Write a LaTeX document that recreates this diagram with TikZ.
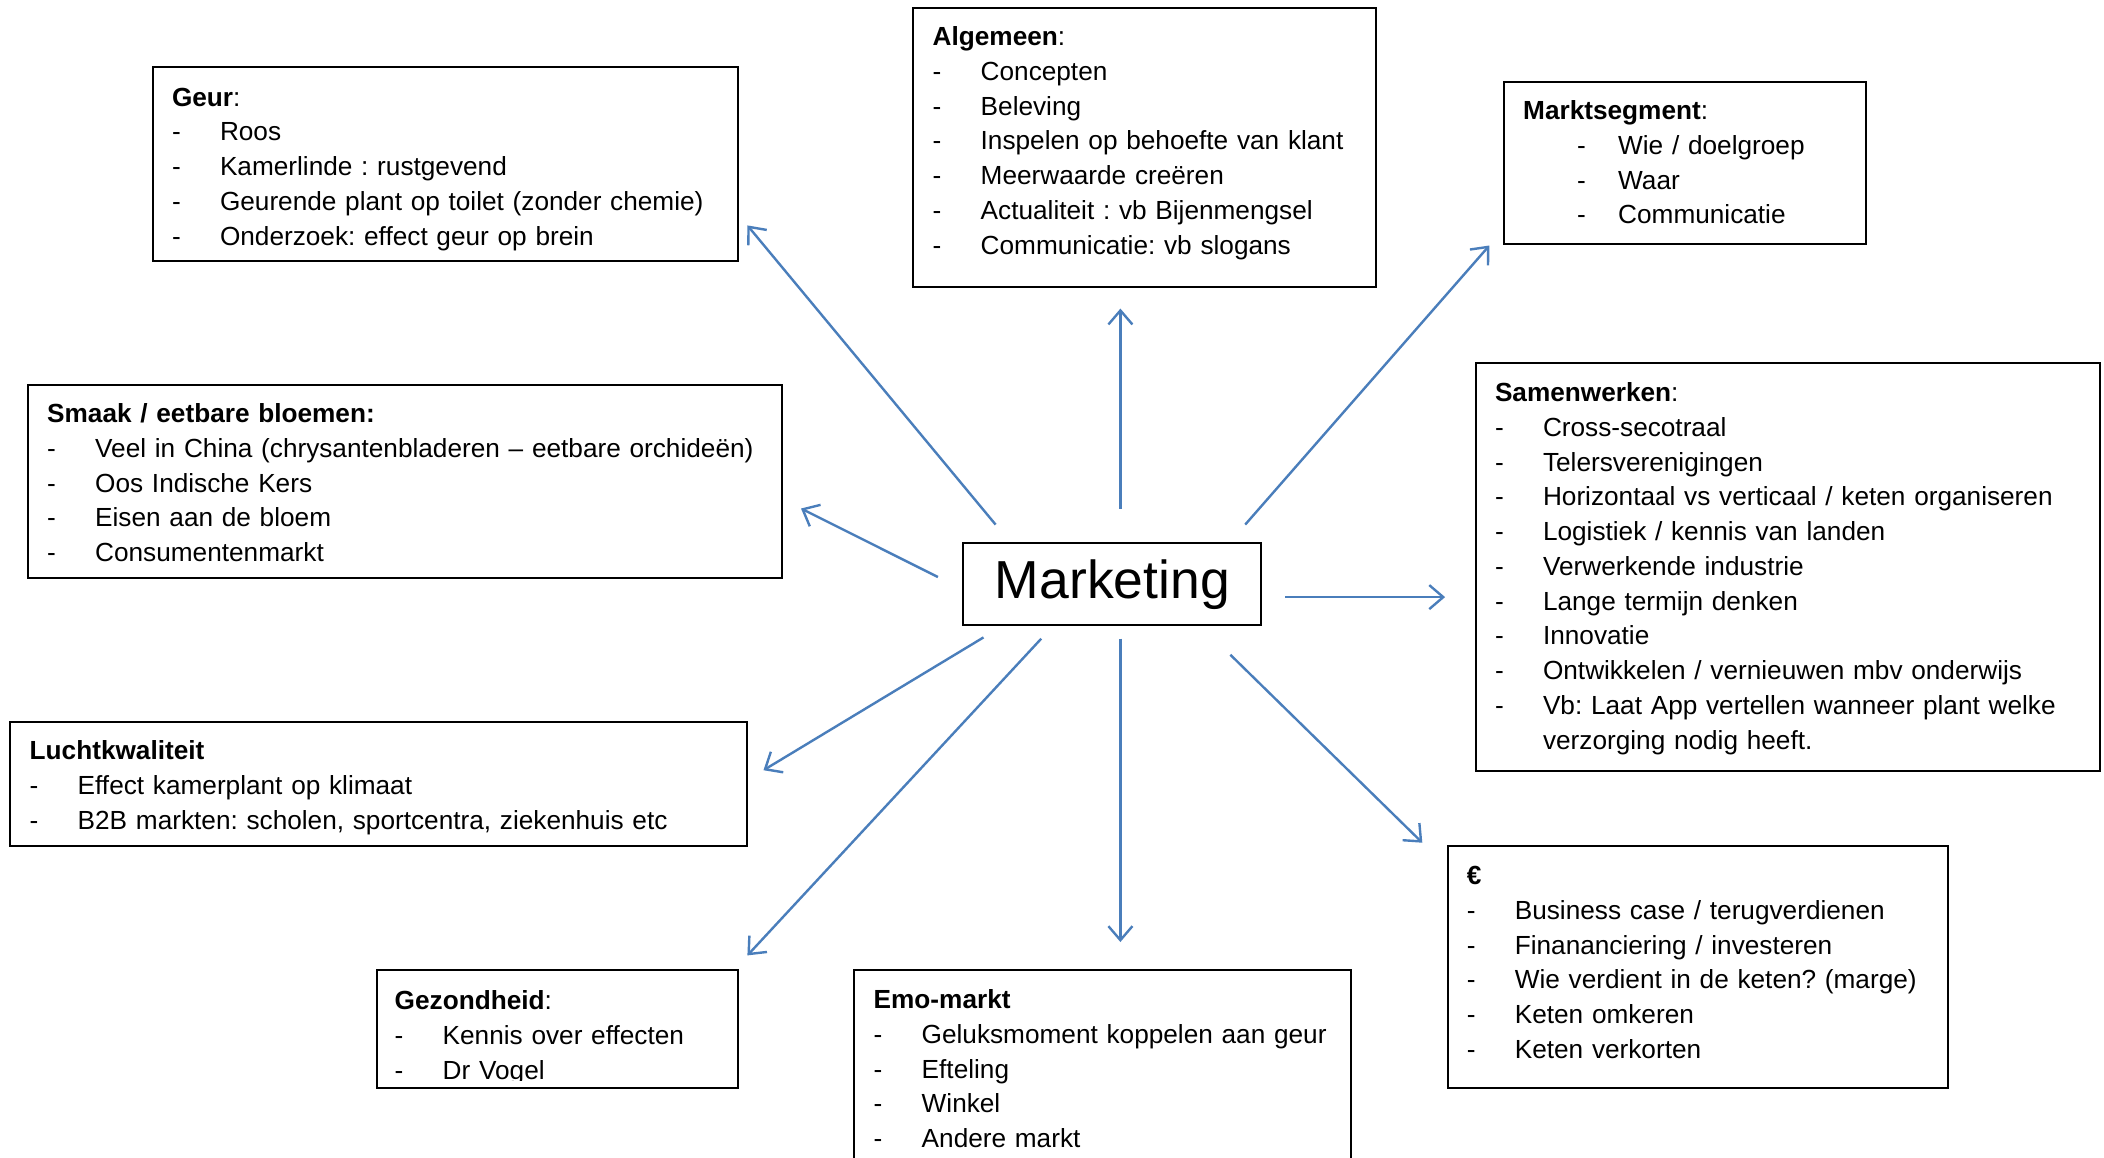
\documentclass[tikz,border=0pt]{standalone}
\usepackage{fontspec}
\setmainfont{Liberation Sans}
\usetikzlibrary{arrows.meta}
\definecolor{linkblue}{RGB}{74,126,187}
% one bullet line: a dash, then the text at the tab stop
\newcommand\dashitem[2][48pt]{\makebox[#1][l]{-}#2}
% fixes the distance from the top of a text block to its first baseline
\newcommand\topline{\rule{0pt}{24pt}}
\frenchspacing
\begin{document}
\begin{tikzpicture}[x=1pt,y=-1pt,
  frame/.style={draw=black, line width=2pt, anchor=north west, inner sep=0pt},
  body/.style={anchor=north west, inner sep=0pt, align=left, text width=900pt,
    font=\fontsize{26.2}{34.75}\selectfont},
  link/.style={draw=linkblue, line width=2.4pt, -{Straight Barb[length=14pt,width=24pt]}}
]
\useasboundingbox (0,0) rectangle (2104,1157);
\fill[white] (0,0) rectangle (2104,1157);
\clip (0,0) rectangle (2104,1157);

% central topic
\node[draw=black, line width=2pt, minimum width=298pt, minimum height=82pt,
  font=\fontsize{53.5}{60}\selectfont] (mkt) at (1112.4,584.3) {Marketing};

% Geur
\node[frame, minimum width=585pt, minimum height=194.6pt] (geur) at (151.6,65.7) {};
\node[body] (geurtxt) at (171.8,82) {\topline\textbf{Geur}:\\
  \dashitem{Roos}\\
  \dashitem{Kamerlinde : rustgevend}\\
  \dashitem{Geurende plant op toilet (zonder chemie)}\\
  \dashitem{Onderzoek: effect geur op brein}};

% Algemeen
\node[frame, minimum width=463pt, minimum height=279pt] (alg) at (912.4,6.7) {};
\node[body] (algtxt) at (932.5,21.5) {\topline\textbf{Algemeen}:\\
  \dashitem{Concepten}\\
  \dashitem{Beleving}\\
  \dashitem{Inspelen op behoefte van klant}\\
  \dashitem{Meerwaarde creëren}\\
  \dashitem{Actualiteit : vb Bijenmengsel}\\
  \dashitem{Communicatie: vb slogans}};

% Marktsegment
\node[frame, minimum width=362.3pt, minimum height=162.4pt] (markt) at (1502.8,80.5) {};
\node[body] (markttxt) at (1523,95.5) {\topline\textbf{Marktsegment}:\\
  \hspace*{54pt}\dashitem[41pt]{Wie / doelgroep}\\
  \hspace*{54pt}\dashitem[41pt]{Waar}\\
  \hspace*{54pt}\dashitem[41pt]{Communicatie}};

% Smaak
\node[frame, minimum width=754.1pt, minimum height=193.2pt] (smaak) at (26.8,383.8) {};
\node[body] (smaaktxt) at (47,398.5) {\topline\textbf{Smaak / eetbare bloemen:}\\
  \dashitem{Veel in China (chrysantenbladeren – eetbare orchideën)}\\
  \dashitem{Oos Indische Kers}\\
  \dashitem{Eisen aan de bloem}\\
  \dashitem{Consumentenmarkt}};

% Samenwerken
\node[frame, minimum width=624pt, minimum height=407.9pt] (samen) at (1474.6,362.3) {};
\node[body] (samentxt) at (1494.8,377.5) {\topline\textbf{Samenwerken}:\\
  \dashitem{Cross-secotraal}\\
  \dashitem{Telersverenigingen}\\
  \dashitem{Horizontaal vs verticaal / keten organiseren}\\
  \dashitem{Logistiek / kennis van landen}\\
  \dashitem{Verwerkende industrie}\\
  \dashitem{Lange termijn denken}\\
  \dashitem{Innovatie}\\
  \dashitem{Ontwikkelen / vernieuwen mbv onderwijs}\\
  \dashitem{Vb: Laat App vertellen wanneer plant welke}\\
  \hspace*{48pt}verzorging nodig heeft.};

% Luchtkwaliteit
\node[frame, minimum width=736.6pt, minimum height=124.8pt] (lucht) at (9.4,720.5) {};
\node[body] (luchttxt) at (29.5,735.5) {\topline\textbf{Luchtkwaliteit}\\
  \dashitem{Effect kamerplant op klimaat}\\
  \dashitem{B2B markten: scholen, sportcentra, ziekenhuis etc}};

% Gezondheid (its last line is cut off by the box)
\node[frame, minimum width=360.9pt, minimum height=118.1pt] (gez) at (375.7,968.8) {};
\begin{scope}
  \clip (375.7,968.8) rectangle (736.6,1080);
  \node[body] (geztxt) at (394.5,985.5) {\topline\textbf{Gezondheid}:\\
    \dashitem{Kennis over effecten}\\
    \dashitem{Dr Vogel}};
\end{scope}

% Emo-markt (runs past the lower edge)
\node[frame, minimum width=496.5pt, minimum height=260pt] (emo) at (853.4,968.8) {};
\node[body] (emotxt) at (873.5,984.5) {\topline\textbf{Emo-markt}\\
  \dashitem{Geluksmoment koppelen aan geur}\\
  \dashitem{Efteling}\\
  \dashitem{Winkel}\\
  \dashitem{Andere markt}};

% Euro
\node[frame, minimum width=500.4pt, minimum height=241.6pt] (euro) at (1446.5,845.3) {};
\node[body] (eurotxt) at (1466.6,860.5) {\topline\textbf{€}\\
  \dashitem{Business case / terugverdienen}\\
  \dashitem{Finananciering / investeren}\\
  \dashitem{Wie verdient in de keten? (marge)}\\
  \dashitem{Keten omkeren}\\
  \dashitem{Keten verkorten}};

% connector ends
\coordinate (g0) at (995.6,524.6);   \coordinate (g1) at (747.4,225.4);
\coordinate (a0) at (1120.4,508.5);  \coordinate (a1) at (1120.4,308.6);
\coordinate (m0) at (1245.2,524.6);  \coordinate (m1) at (1489.4,245.5);
\coordinate (s0) at (937.9,577);     \coordinate (s1) at (801,508.5);
\coordinate (w0) at (1285.4,597.1);  \coordinate (w1) at (1445.1,597.1);
\coordinate (l0) at (983.5,637.4);   \coordinate (l1) at (763.5,770.2);
\coordinate (z0) at (1041.2,638.7);  \coordinate (z1) at (747.4,955.4);
\coordinate (e0) at (1120.4,638.7);  \coordinate (e1) at (1120.4,942);
\coordinate (u0) at (1230.4,654.8);  \coordinate (u1) at (1422.3,842.7);

\draw[link] (g0) -- (g1);
\draw[link] (a0) -- (a1);
\draw[link] (m0) -- (m1);
\draw[link] (s0) -- (s1);
\draw[link] (w0) -- (w1);
\draw[link] (l0) -- (l1);
\draw[link] (z0) -- (z1);
\draw[link] (e0) -- (e1);
\draw[link] (u0) -- (u1);
\end{tikzpicture}
\end{document}
